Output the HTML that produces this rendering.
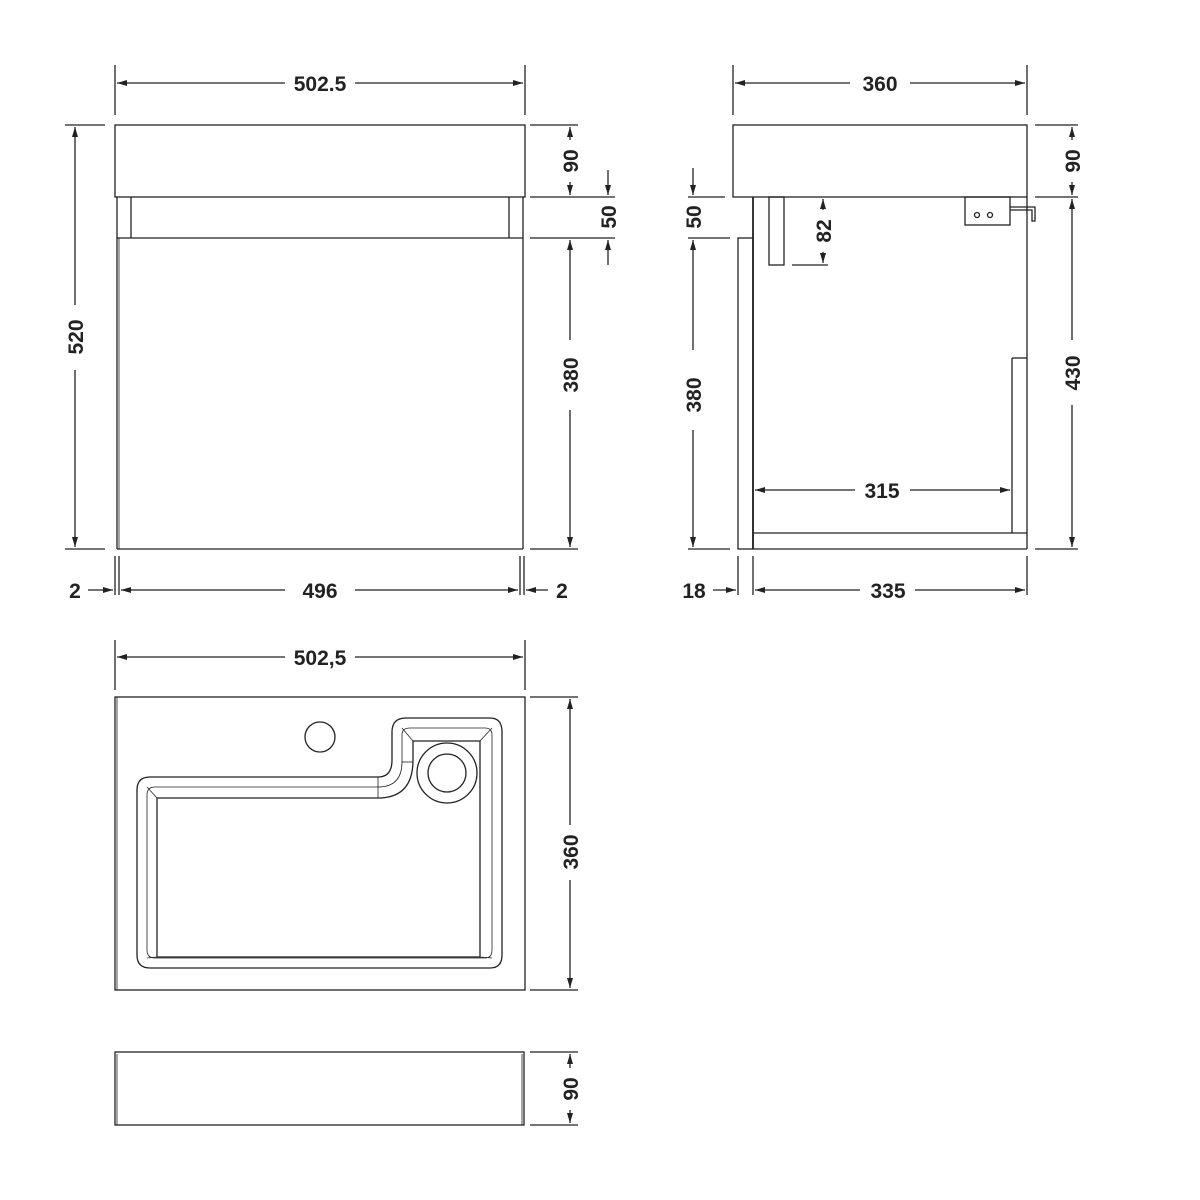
<!DOCTYPE html>
<html><head><meta charset="utf-8"><style>
html,body{margin:0;padding:0;background:#fff}
svg{display:block}
text{font-family:"Liberation Sans",sans-serif;font-weight:bold;font-size:21px;fill:#222}
</style></head><body>
<svg width="1200" height="1200" viewBox="0 0 1200 1200" xmlns="http://www.w3.org/2000/svg">
<defs>
<marker id="a" viewBox="0 0 10 6" refX="10" refY="3" markerWidth="10" markerHeight="6" orient="auto" markerUnits="userSpaceOnUse"><path d="M0,0 L10,3 L0,6 Z" fill="#222"/></marker>
</defs>
<g stroke="#222" stroke-width="1.3" fill="none">
<!-- FRONT VIEW -->
<line x1="115" y1="65" x2="115" y2="115"/><line x1="525" y1="65" x2="525" y2="115"/>
<line x1="285" y1="83" x2="117" y2="83" marker-end="url(#a)"/><line x1="355" y1="83" x2="523" y2="83" marker-end="url(#a)"/>
<rect x="115" y="125" width="410" height="72"/>
<line x1="117" y1="197" x2="117" y2="549"/><line x1="131" y1="197" x2="131" y2="238"/>
<line x1="509" y1="197" x2="509" y2="238"/><line x1="523" y1="197" x2="523" y2="549"/>
<line x1="117" y1="238" x2="523" y2="238"/><line x1="117" y1="549" x2="523" y2="549"/>
<line x1="119" y1="238" x2="119" y2="549" stroke-width="0.8"/>
<!-- 520 -->
<line x1="65" y1="125" x2="105" y2="125"/><line x1="65" y1="549" x2="105" y2="549"/>
<line x1="75" y1="305" x2="75" y2="127" marker-end="url(#a)"/><line x1="75" y1="370" x2="75" y2="547" marker-end="url(#a)"/>
<!-- 90/50/380 -->
<line x1="530" y1="125" x2="578" y2="125"/><line x1="530" y1="197" x2="615" y2="197"/>
<line x1="530" y1="238" x2="615" y2="238"/><line x1="530" y1="549" x2="578" y2="549"/>
<line x1="570" y1="140" x2="570" y2="127" marker-end="url(#a)"/><line x1="570" y1="182" x2="570" y2="195" marker-end="url(#a)"/>
<line x1="608" y1="170" x2="608" y2="195" marker-end="url(#a)"/><line x1="608" y1="265" x2="608" y2="240" marker-end="url(#a)"/>
<line x1="570" y1="340" x2="570" y2="240" marker-end="url(#a)"/><line x1="570" y1="410" x2="570" y2="547" marker-end="url(#a)"/>
<!-- bottom 2/496/2 -->
<line x1="115" y1="556" x2="115" y2="595"/><line x1="119" y1="556" x2="119" y2="595"/>
<line x1="520" y1="556" x2="520" y2="595"/><line x1="524" y1="556" x2="524" y2="595"/>
<line x1="88" y1="590" x2="113" y2="590" marker-end="url(#a)"/>
<line x1="285" y1="590" x2="121" y2="590" marker-end="url(#a)"/><line x1="355" y1="590" x2="518" y2="590" marker-end="url(#a)"/>
<line x1="548" y1="590" x2="526" y2="590" marker-end="url(#a)"/>

<!-- SIDE VIEW -->
<line x1="733" y1="65" x2="733" y2="115"/><line x1="1027" y1="65" x2="1027" y2="115"/>
<line x1="850" y1="83" x2="735" y2="83" marker-end="url(#a)"/><line x1="910" y1="83" x2="1025" y2="83" marker-end="url(#a)"/>
<rect x="733" y="125" width="294" height="72"/>
<line x1="753" y1="197" x2="753" y2="549" stroke-width="1.8"/>
<line x1="1027" y1="197" x2="1027" y2="549"/>
<rect x="738" y="238" width="15" height="311"/>
<line x1="753" y1="533" x2="1027" y2="533"/><line x1="753" y1="549" x2="1027" y2="549"/>
<line x1="1012" y1="358" x2="1012" y2="533"/><line x1="1012" y1="358" x2="1027" y2="358"/>
<rect x="769" y="197" width="15" height="68"/>
<line x1="792" y1="265" x2="828" y2="265"/>
<line x1="823" y1="210" x2="823" y2="199" marker-end="url(#a)"/><line x1="823" y1="252" x2="823" y2="263" marker-end="url(#a)"/>
<rect x="965" y="197" width="45" height="28"/>
<circle cx="977" cy="215" r="2.5"/><circle cx="990" cy="215" r="2.5"/>
<path d="M1010 207 H1035 V221 H1032 V210 H1010"/>
<!-- left dims -->
<line x1="688" y1="197" x2="725" y2="197"/><line x1="688" y1="238" x2="730" y2="238"/><line x1="688" y1="549" x2="730" y2="549"/>
<line x1="693" y1="168" x2="693" y2="195" marker-end="url(#a)"/>
<line x1="693" y1="350" x2="693" y2="240" marker-end="url(#a)"/><line x1="693" y1="430" x2="693" y2="547" marker-end="url(#a)"/>
<!-- right dims -->
<line x1="1035" y1="125" x2="1078" y2="125"/><line x1="1035" y1="197" x2="1078" y2="197"/><line x1="1035" y1="549" x2="1078" y2="549"/>
<line x1="1072" y1="140" x2="1072" y2="127" marker-end="url(#a)"/><line x1="1072" y1="182" x2="1072" y2="195" marker-end="url(#a)"/>
<line x1="1072" y1="340" x2="1072" y2="199" marker-end="url(#a)"/><line x1="1072" y1="405" x2="1072" y2="547" marker-end="url(#a)"/>
<!-- 315 -->
<line x1="855" y1="490" x2="755" y2="490" marker-end="url(#a)"/><line x1="910" y1="490" x2="1010" y2="490" marker-end="url(#a)"/>
<!-- 18/335 -->
<line x1="738" y1="556" x2="738" y2="595"/><line x1="753" y1="556" x2="753" y2="595"/><line x1="1027" y1="556" x2="1027" y2="595"/>
<line x1="713" y1="590" x2="736" y2="590" marker-end="url(#a)"/>
<line x1="860" y1="590" x2="755" y2="590" marker-end="url(#a)"/><line x1="915" y1="590" x2="1025" y2="590" marker-end="url(#a)"/>

<!-- TOP VIEW -->
<line x1="115" y1="640" x2="115" y2="690"/><line x1="525" y1="640" x2="525" y2="690"/>
<line x1="285" y1="657" x2="117" y2="657" marker-end="url(#a)"/><line x1="355" y1="657" x2="523" y2="657" marker-end="url(#a)"/>
<rect x="115" y="697" width="410" height="293"/>
<line x1="117" y1="697" x2="117" y2="990" stroke-width="0.8"/>
<line x1="530" y1="697" x2="578" y2="697"/><line x1="530" y1="990" x2="578" y2="990"/>
<line x1="570" y1="825" x2="570" y2="699" marker-end="url(#a)"/><line x1="570" y1="880" x2="570" y2="988" marker-end="url(#a)"/>
<circle cx="320" cy="737" r="15"/>
<path d="M150 777 H378 Q392 777 392 760 V732 Q392 718 406 718 H490 Q502 718 502 732 V955 Q502 968 490 968 H150 Q137 968 137 955 V790 Q137 777 150 777 Z"/>
<path d="M155 787 H378 Q402 787 402 762 V735 Q402 728 410 728 H485 Q492 728 492 735 V950 Q492 958 485 958 H155 Q147 958 147 950 V795 Q147 787 155 787 Z" stroke-width="0.8"/>
<path d="M157 798 H378 Q413 798 413 760 V741 H480 V957 H157 Z"/>
<line x1="147" y1="787" x2="157" y2="798" stroke-width="0.8"/><line x1="492" y1="728" x2="480" y2="741" stroke-width="0.8"/>
<line x1="402" y1="728" x2="413" y2="741" stroke-width="0.8"/><line x1="147" y1="958" x2="157" y2="957" stroke-width="0.8"/>
<line x1="492" y1="958" x2="480" y2="957" stroke-width="0.8"/>
<line x1="378" y1="777" x2="378" y2="798" stroke-width="0.8"/><line x1="402" y1="762" x2="413" y2="762" stroke-width="0.8"/>
<circle cx="447" cy="773" r="30"/><circle cx="447" cy="773" r="19"/>

<!-- BOTTOM SECTION -->
<rect x="115" y="1052" width="409" height="73"/>
<line x1="117" y1="1054" x2="117" y2="1125" stroke-width="0.8"/><line x1="522" y1="1054" x2="522" y2="1125" stroke-width="0.8"/>
<line x1="530" y1="1052" x2="578" y2="1052"/><line x1="530" y1="1125" x2="578" y2="1125"/>
<line x1="570" y1="1068" x2="570" y2="1054" marker-end="url(#a)"/><line x1="570" y1="1110" x2="570" y2="1123" marker-end="url(#a)"/>
</g>
<g text-anchor="middle">
<text x="320" y="91">502.5</text>
<text x="880" y="91">360</text>
<text x="320" y="665">502,5</text>
<text x="75" y="598">2</text><text x="320" y="598">496</text><text x="562" y="598">2</text>
<text x="694" y="598">18</text><text x="888" y="598">335</text>
<text x="882" y="498">315</text>
<text transform="translate(83,337) rotate(-90)">520</text>
<text transform="translate(578,161) rotate(-90)">90</text>
<text transform="translate(616,217) rotate(-90)">50</text>
<text transform="translate(578,375) rotate(-90)">380</text>
<text transform="translate(701,217) rotate(-90)">50</text>
<text transform="translate(701,395) rotate(-90)">380</text>
<text transform="translate(831,231) rotate(-90)">82</text>
<text transform="translate(1080,161) rotate(-90)">90</text>
<text transform="translate(1080,373) rotate(-90)">430</text>
<text transform="translate(578,852) rotate(-90)">360</text>
<text transform="translate(578,1089) rotate(-90)">90</text>
</g>
</svg>
</body></html>
